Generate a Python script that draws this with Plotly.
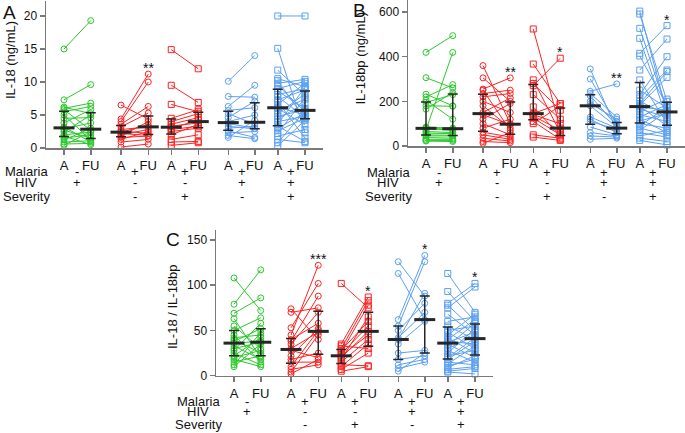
import numpy as np
import plotly.graph_objects as go

# ---------------- data ----------------
GROUP_COLORS = ["#2cc92c", "#ff2222", "#ff2222", "#5ca0f2", "#5ca0f2"]
GROUP_SYMBOLS = ["circle-open", "circle-open", "square-open", "circle-open", "square-open"]
TIME_LABELS = ["A", "FU"]
ROW_NAMES = ["Malaria", "HIV", "Severity"]
MALARIA = ["-", "+", "+", "+", "+"]
HIV = ["+", "-", "-", "+", "+"]
SEVERITY = ["", "-", "+", "-", "+"]

# IL-18 (ng/mL), acute (A) and follow-up (FU), paired per subject
IL18_A = [
    [15.0, 7.3, 6.2, 6.0, 5.8, 5.5, 5.0, 4.5, 3.8, 3.2, 2.9, 2.7, 2.4, 2.0, 1.8, 1.5, 1.2, 0.9, 0.6, 0.4],
    [6.5, 4.4, 4.0, 3.6, 3.2, 2.8, 2.6, 2.4, 2.2, 2.0, 1.8, 1.6, 1.3, 0.9, 0.15],
    [14.9, 9.5, 6.6, 4.5, 4.0, 3.6, 3.3, 3.0, 2.8, 2.5, 2.0, 1.3, 0.9, 0.4],
    [10.1, 7.8, 6.3, 5.7, 5.2, 4.6, 4.0, 3.7, 3.3, 3.0, 2.6, 2.3, 1.9, 1.6],
    [20.0, 15.1, 11.8, 10.5, 10.2, 9.8, 9.5, 9.0, 8.6, 8.1, 7.8, 7.3, 7.0, 6.6, 6.2,
     6.0, 5.6, 5.2, 4.8, 4.4, 4.0, 3.6, 3.3, 3.0, 2.6, 2.2, 1.8, 1.3, 0.8, 0.3],
]
IL18_FU = [
    [19.3, 9.6, 5.2, 6.8, 2.7, 6.3, 1.2, 4.6, 5.8, 0.9, 3.8, 1.5, 5.0, 2.4, 0.5, 2.0, 3.0, 1.1, 0.7, 2.5],
    [4.4, 11.2, 10.0, 6.3, 5.3, 3.2, 2.2, 3.5, 1.9, 2.8, 4.0, 1.8, 2.5, 1.3, 0.6],
    [12.0, 6.9, 5.5, 5.8, 5.2, 4.6, 3.8, 4.2, 3.3, 3.0, 3.6, 2.0, 1.0, 0.8],
    [14.0, 7.7, 9.5, 6.1, 3.6, 7.1, 5.0, 3.0, 2.9, 3.3, 1.6, 2.5, 1.4, 4.2],
    [20.0, 2.3, 8.0, 9.3, 4.4, 10.4, 5.5, 10.1, 6.0, 9.0, 4.6, 8.8, 1.5, 9.8, 5.0,
     3.5, 7.4, 8.2, 5.8, 6.8, 4.8, 9.2, 1.0, 5.3, 4.5, 7.6, 2.8, 0.8, 5.6, 4.2],
]

# IL-18bp (ng/mL)
IL18BP_A = [
    [419, 306, 232, 220, 205, 195, 180, 165, 85, 80, 78, 72, 65, 58, 50, 45, 38, 30, 25, 22],
    [360, 305, 255, 250, 235, 220, 200, 180, 150, 140, 120, 100, 80, 62, 50, 35, 20, 12],
    [524, 367, 296, 280, 270, 230, 175, 145, 140, 135, 125, 110, 100, 50, 40],
    [345, 300, 245, 235, 225, 200, 190, 180, 130, 120, 110, 85, 60, 45, 30],
    [604, 591, 527, 482, 415, 403, 340, 296, 250, 230, 215, 200, 190, 182, 178,
     175, 165, 155, 140, 130, 120, 112, 100, 90, 80, 70, 60, 45, 35, 25],
]
IL18BP_FU = [
    [494, 260, 180, 275, 120, 230, 178, 240, 80, 75, 70, 419, 60, 55, 48, 45, 35, 30, 25, 20],
    [100, 200, 305, 70, 250, 235, 150, 80, 215, 95, 190, 50, 120, 40, 30, 22, 15, 60],
    [80, 190, 60, 160, 393, 120, 45, 190, 100, 70, 50, 30, 180, 35, 25],
    [70, 100, 278, 130, 90, 110, 120, 85, 80, 60, 75, 50, 45, 40, 35],
    [150, 200, 160, 120, 539, 180, 479, 100, 170, 400, 340, 140, 333, 307, 90,
     160, 130, 210, 110, 185, 60, 145, 80, 175, 50, 155, 40, 70, 20, 5],
]

# IL-18 / IL-18bp ratio
RATIO_A = [
    [108, 79, 69, 63, 55, 50, 45, 42, 40, 38, 36, 33, 30, 28, 25, 22, 20, 18, 15, 12, 10],
    [74, 70, 53, 45, 40, 38, 35, 30, 28, 22, 18, 15, 10, 7, 4, 2],
    [102, 35, 33, 30, 28, 26, 24, 22, 20, 18, 15, 12, 10, 7, 5],
    [126, 113, 62, 55, 50, 42, 40, 35, 25, 18, 12, 8, 5],
    [113, 93, 80, 78, 75, 68, 60, 55, 50, 48, 45, 42, 40, 38, 37,
     35, 33, 30, 28, 25, 22, 20, 18, 15, 13, 11, 9, 7, 5, 4],
]
RATIO_FU = [
    [72, 117, 86, 20, 30, 64, 15, 45, 25, 52, 38, 18, 37, 58, 12, 42, 28, 10, 22, 48, 35],
    [40, 75, 102, 122, 58, 88, 70, 48, 20, 52, 25, 15, 50, 12, 45, 18],
    [75, 87, 30, 83, 60, 78, 55, 45, 49, 65, 40, 11, 35, 25, 10],
    [88, 62, 133, 126, 80, 70, 91, 60, 28, 22, 18, 15, 25],
    [70, 60, 102, 50, 98, 45, 65, 40, 55, 30, 68, 25, 62, 35, 48,
     20, 58, 44, 15, 52, 28, 42, 38, 12, 33, 18, 22, 10, 8, 2],
]

SIG_IL18 = ["", "**", "", "", ""]
SIG_IL18BP = ["", "**", "*", "**", "*"]
SIG_RATIO = ["", "***", "*", "*", "*"]

Y_TITLES = ["IL-18 (ng/mL)", "IL-18bp (ng/mL)", "IL-18 / IL-18bp"]
PANEL_LETTERS = ["A", "B", "C"]
Y_TICKS = [[0, 5, 10, 15, 20], [0, 200, 400, 600], [0, 50, 100, 150]]

# ---------------- layout helpers ----------------
W, H = 685, 433
FONT = "Liberation Sans, Arial, Helvetica, sans-serif"
AXIS_GREY = "#7a7a7a"
BAR_COLOR = "#262626"

# slot positions of the 10 A/FU columns (pair-unit spacing)
POS = [0, 1.07, 2.28, 3.37, 4.29, 5.37, 6.57, 7.63, 8.55, 9.64]
XRANGE = [-0.72, 10.35]


def px_x(p):
    return p / W


def px_y(p):
    return 1 - p / H


PANELS = [
    dict(xl=46, xr=322.75, yb=148, yt=1, ytop=22.27,
         title_xy=(10, 60), letter_xy=(9, 12), rows_y=(172, 183, 196.5), rows_x=26),
    dict(xl=408, xr=684.75, yb=146, yt=0, ytop=653.7,
         title_xy=(360, 58.5), letter_xy=(359, 10.5), rows_y=(172.3, 182.8, 196.7), rows_x=388),
    dict(xl=216, xr=492.75, yb=375.7, yt=230, ytop=161.05,
         title_xy=(172, 307), letter_xy=(172.5, 240), rows_y=(401, 411.7, 424), rows_x=198),
]

DATASETS = [
    (IL18_A, IL18_FU, SIG_IL18),
    (IL18BP_A, IL18BP_FU, SIG_IL18BP),
    (RATIO_A, RATIO_FU, SIG_RATIO),
]

fig = go.Figure()
annotations = []
layout_axes = {}

for k, (panel, (va, vf, sig)) in enumerate(zip(PANELS, DATASETS)):
    sfx = "" if k == 0 else str(k + 1)
    xa, ya = "x" + sfx, "y" + sfx

    for g in range(5):
        xs, ys = [], []
        for a, f in zip(va[g], vf[g]):
            xs += [POS[2 * g], POS[2 * g + 1], None]
            ys += [a, f, None]
        c = GROUP_COLORS[g]
        fig.add_trace(go.Scatter(
            x=xs, y=ys, mode="lines+markers", xaxis=xa, yaxis=ya,
            line=dict(color=c, width=1),
            marker=dict(symbol=GROUP_SYMBOLS[g], size=6, color=c, line=dict(color=c, width=1)),
            cliponaxis=False, showlegend=False, hoverinfo="skip"))

    xs, med, lo, hi = [], [], [], []
    for g in range(5):
        for j, vals in enumerate((va[g], vf[g])):
            q1, m, q3 = np.percentile(vals, [25, 50, 75])
            xs.append(POS[2 * g + j])
            med.append(m)
            lo.append(m - q1)
            hi.append(q3 - m)
    fig.add_trace(go.Scatter(
        x=xs, y=med, mode="markers", xaxis=xa, yaxis=ya,
        marker=dict(symbol="line-ew", size=15, color=BAR_COLOR, line=dict(color=BAR_COLOR, width=3)),
        error_y=dict(type="data", symmetric=False, array=hi, arrayminus=lo,
                     color=BAR_COLOR, thickness=1.5, width=5),
        cliponaxis=False, showlegend=False, hoverinfo="skip"))

    for g in range(5):
        if sig[g]:
            annotations.append(dict(
                x=POS[2 * g + 1], y=max(vf[g]), xref=xa, yref=ya, text=sig[g],
                showarrow=False, yanchor="middle", yshift=6,
                font=dict(family=FONT, size=14, color="#111")))

    layout_axes["xaxis" + sfx] = dict(
        domain=[px_x(panel["xl"]), px_x(panel["xr"])], anchor=ya, range=XRANGE,
        tickvals=POS, ticktext=TIME_LABELS * 5, showline=True, linecolor=AXIS_GREY,
        linewidth=1.5, ticks="outside", ticklen=5, tickwidth=1.5, tickcolor=AXIS_GREY,
        showgrid=False, zeroline=False, automargin=False,
        tickfont=dict(family=FONT, size=13, color="#111"))
    layout_axes["yaxis" + sfx] = dict(
        domain=[px_y(panel["yb"]), px_y(panel["yt"])], anchor=xa, range=[0, panel["ytop"]],
        tickvals=Y_TICKS[k], showline=True, linecolor=AXIS_GREY, linewidth=1.5,
        ticks="outside", ticklen=5, tickwidth=1.5, tickcolor=AXIS_GREY,
        showgrid=False, zeroline=False, automargin=False,
        tickfont=dict(family=FONT, size=12, color="#111"))

    tx, ty = panel["title_xy"]
    annotations.append(dict(x=px_x(tx), y=px_y(ty), xref="paper", yref="paper",
                            text=Y_TITLES[k], textangle=-90, showarrow=False,
                            xanchor="center", yanchor="middle",
                            font=dict(family=FONT, size=13, color="#111")))
    lx, ly = panel["letter_xy"]
    annotations.append(dict(x=px_x(lx), y=px_y(ly), xref="paper", yref="paper",
                            text=PANEL_LETTERS[k], showarrow=False,
                            xanchor="center", yanchor="middle",
                            font=dict(family=FONT, size=19, color="#111")))
    for r, (name, marks) in enumerate(zip(ROW_NAMES, (MALARIA, HIV, SEVERITY))):
        yy = px_y(panel["rows_y"][r])
        annotations.append(dict(x=px_x(panel["rows_x"]), y=yy, xref="paper", yref="paper",
                                text=name, showarrow=False, xanchor="center", yanchor="middle",
                                font=dict(family=FONT, size=13, color="#111")))
        for g in range(5):
            if marks[g]:
                annotations.append(dict(
                    x=(POS[2 * g] + POS[2 * g + 1]) / 2, y=yy, xref=xa, yref="paper",
                    text=marks[g], showarrow=False, xanchor="center", yanchor="middle",
                    font=dict(family=FONT, size=13, color="#111")))

fig.update_layout(
    width=W, height=H, margin=dict(l=0, r=0, t=0, b=0, autoexpand=False),
    paper_bgcolor="white", plot_bgcolor="white", hovermode=False,
    annotations=annotations, showlegend=False, **layout_axes)

fig.write_html("out.html", config={"displayModeBar": False, "staticPlot": True},
               post_script="document.body.style.margin='0';")
